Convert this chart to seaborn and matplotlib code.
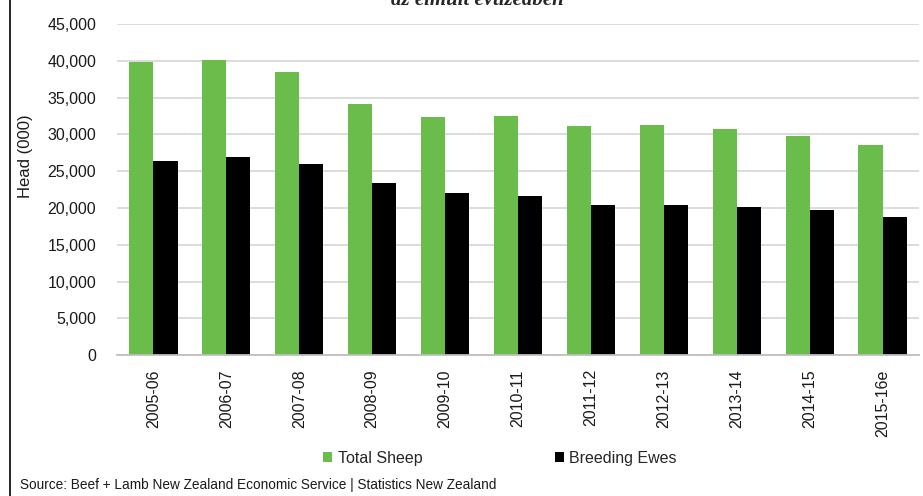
import matplotlib
matplotlib.use("Agg")
import matplotlib.pyplot as plt
import seaborn as sns
import pandas as pd
from matplotlib.patches import Patch
from matplotlib.ticker import FuncFormatter

seasons = ["2005-06", "2006-07", "2007-08", "2008-09", "2009-10", "2010-11",
           "2011-12", "2012-13", "2013-14", "2014-15", "2015-16e"]
total_sheep = [39800, 40050, 38450, 34100, 32350, 32550, 31100, 31250, 30700, 29800, 28500]
breeding_ewes = [26350, 26900, 26000, 23450, 22100, 21700, 20450, 20400, 20200, 19750, 18850]
series_names = ["Total Sheep", "Breeding Ewes"]
colors = ["#6abd4b", "#000000"]
y_ticks = [0, 5000, 10000, 15000, 20000, 25000, 30000, 35000, 40000, 45000]

df = pd.DataFrame({
    "season": seasons * 2,
    "value": total_sheep + breeding_ewes,
    "series": [series_names[0]] * len(seasons) + [series_names[1]] * len(seasons),
})

sns.set_theme(style="white")
plt.rcParams["font.family"] = ["Liberation Sans", "DejaVu Sans"]

fig = plt.figure(figsize=(9.23, 4.96), dpi=100)
ax = fig.add_axes([117 / 923, 1 - 355.3 / 496, (919 - 117) / 923, (355.3 - 24) / 496])

sns.barplot(data=df, x="season", y="value", hue="series", palette=colors,
            width=0.66, linewidth=0, saturation=1, ax=ax, legend=False)

ax.set_ylim(0, 45000)
ax.set_yticks(y_ticks)
ax.yaxis.set_major_formatter(FuncFormatter(lambda v, p: f"{int(v):,}"))
ax.grid(axis="y", color="#d9d9d9", linewidth=1.3)
ax.set_axisbelow(True)
for s in ["top", "right", "left"]:
    ax.spines[s].set_visible(False)
ax.spines["bottom"].set_color("#bfbfbf")
ax.spines["bottom"].set_linewidth(1.3)
ax.tick_params(axis="y", length=0, pad=15, labelsize=11.5, labelcolor="#1a1a1a")
ax.tick_params(axis="x", length=0, pad=10, labelsize=11.5, labelcolor="#1a1a1a")
plt.setp(ax.get_xticklabels(), rotation=90, va="top", ha="center")
ax.set_xlabel("")
ax.set_ylabel("Head (000)", fontsize=12, color="#1a1a1a")
ax.yaxis.set_label_coords(-0.105, 0.6)

handles = [Patch(facecolor=c, edgecolor="none") for c in colors]
fig.legend(handles, series_names, loc="center", bbox_to_anchor=(500 / 923, 1 - 458 / 496),
           ncol=2, frameon=False, fontsize=11.5, handlelength=0.55, handleheight=0.55,
           handletextpad=0.35, columnspacing=8.3)

fig.text(20 / 923, 1 - 485 / 496,
         "Source: Beef + Lamb New Zealand Economic Service | Statistics New Zealand",
         fontsize=9.8, color="#1a1a1a", ha="left", va="center")

fig.text(0.517, 1 - 5 / 496, "az elmúlt évtizedben", ha="center", va="baseline",
         fontsize=15, fontstyle="italic", fontweight="bold", family=["Liberation Serif", "DejaVu Serif"])

fig.add_artist(plt.Line2D([9.5 / 923, 9.5 / 923], [0, 1], color="black", linewidth=1.2,
                          transform=fig.transFigure))

fig.savefig("out.png", dpi=100, facecolor="white")
